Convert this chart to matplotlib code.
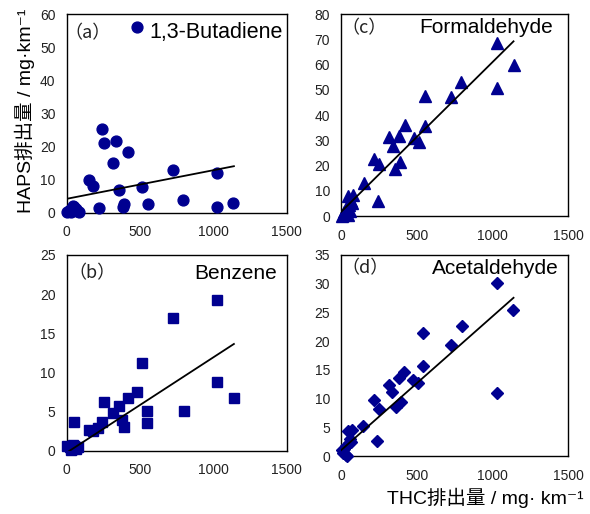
import matplotlib
matplotlib.use("Agg")
import matplotlib.pyplot as plt
import numpy as np

FAM = ['Liberation Sans', 'Noto Sans CJK JP', 'DejaVu Sans']
plt.rcParams['font.family'] = FAM

# ---- data (THC emission x, HAPS emission y) ----
buta_x = [476, 243, 254, 336, 415, 317, 154, 181, 358, 510, 726, 1027, 794, 1134, 1027, 551, 392, 381, 218,
          5, 15, 25, 35, 42, 50, 60, 70, 85, 30]
buta_y = [56.3, 25.4, 21.1, 21.6, 18.4, 14.9, 9.8, 8.0, 7.0, 7.7, 12.8, 11.9, 3.7, 3.0, 1.8, 2.6, 2.6, 1.8, 1.3,
          0.3, 0.5, 0.8, 1.2, 2.0, 1.6, 1.0, 0.6, 0.3, 0.2]

benz_x = [1024, 725, 510, 1026, 1140, 800, 548, 548, 476, 419, 358, 317, 254, 374, 392, 238, 215, 181, 152, 52,
          5, 20, 35, 50, 65, 40, 30, 60, 75]
benz_y = [19.3, 17.0, 11.2, 8.8, 6.7, 5.1, 5.1, 3.6, 7.5, 6.7, 5.7, 4.8, 6.2, 4.0, 3.1, 3.7, 2.95, 2.5, 2.7, 3.7,
          0.7, 0.5, 0.3, 0.6, 0.4, 0.8, 0.1, 0.2, 0.5]

form_x = [1032, 1140, 1032, 796, 728, 552, 552, 424, 386, 315, 480, 513, 342, 220, 249, 393, 360, 154, 243,
          44, 77, 66, 55, 35, 20, 10, 45, 60, 70, 5]
form_y = [68.6, 60.0, 50.7, 53.3, 47.3, 47.7, 35.7, 36.2, 31.8, 31.2, 31.1, 29.5, 27.7, 22.8, 20.5, 21.4, 18.8, 13.0, 5.8,
          8.0, 8.3, 6.0, 4.5, 3.0, 1.5, 0.5, 0.2, 2.0, 5.0, 0.0]

acet_x = [1028, 1138, 1028, 797, 727, 545, 545, 417, 380, 316, 479, 507, 340, 215, 248, 395, 362, 145, 237,
          72, 44, 60, 50, 35, 20, 5, 15, 30, 40, 65]
acet_y = [30.1, 25.4, 10.9, 22.6, 19.4, 21.4, 15.6, 14.7, 13.6, 12.4, 13.3, 12.7, 11.2, 9.7, 8.1, 9.4, 8.5, 5.2, 2.6,
          4.6, 4.3, 3.0, 2.2, 1.8, 1.2, 1.0, 0.5, 0.2, 0.0, 2.5]

# trend lines (slope, intercept), drawn across the THC range
fit_buta = (0.00865, 4.2)
fit_benz = (0.01216, -0.21)
fit_form = (0.05937, 1.6)
fit_acet = (0.02329, 1.0)
fit_range = (0, 1140)

names = ['1,3-Butadiene', 'Benzene', 'Formaldehyde', 'Acetaldehyde']
tags = ['（a）', '（b）', '（c）', '（d）']
ymaxes = [60, 25, 80, 35]
ysteps = [10, 5, 10, 5]

NAVY = '#000090'
W, H = 590, 514
fig = plt.figure(figsize=(W / 100, H / 100), dpi=100)

def ax_at(x0, y0, x1, y1):
    return fig.add_axes([x0 / W, 1 - y1 / H, (x1 - x0) / W, (y1 - y0) / H])

axa = ax_at(66.7, 14.3, 286.7, 212.7)
axc = ax_at(341, 14.3, 568, 216)
axb = ax_at(66.7, 255, 286.7, 451)
axd = ax_at(341, 255, 568, 456)

panels = [
    (axa, buta_x, buta_y, fit_buta, 'o', 7.8, 0, (0.983, 0.906), (0.097, 0.906), 15.5),
    (axb, benz_x, benz_y, fit_benz, 's', 6.5, 1, (0.956, 0.908), (0.115, 0.908), 15),
    (axc, form_x, form_y, fit_form, '^', 8, 2, (0.934, 0.937), (0.101, 0.932), 15),
    (axd, acet_x, acet_y, fit_acet, 'D', 6, 3, (0.960, 0.935), (0.106, 0.935), 15),
]

for ax, xs, ys, fit, mk, ms, i, tpos, lpos, fs in panels:
    ax.plot(xs, ys, linestyle='none', marker=mk, markersize=ms, color=NAVY,
            markeredgecolor=NAVY, clip_on=False, zorder=3)
    fx = np.array(fit_range, dtype=float)
    ax.plot(fx, fit[0] * fx + fit[1], color='black', linewidth=1.3, zorder=4)
    ax.set_xlim(0, 1500)
    ax.set_ylim(0, ymaxes[i])
    ax.set_xticks(np.arange(0, 1501, 500))
    ax.set_yticks(np.arange(0, ymaxes[i] + 0.1, ysteps[i]))
    ax.tick_params(axis='both', length=0, labelsize=10, labelcolor='#222222')
    ax.tick_params(axis='x', pad=9)
    ax.tick_params(axis='y', pad=8)
    for s in ax.spines.values():
        s.set_linewidth(1.0)
        s.set_color('black')
    ax.text(tpos[0], tpos[1], names[i], transform=ax.transAxes, ha='right', va='center',
            fontsize=fs, family=FAM, zorder=5)
    ax.text(lpos[0], lpos[1], tags[i], transform=ax.transAxes, ha='center', va='center',
            fontsize=13, family=['Noto Sans CJK JP', 'DejaVu Sans'], color='#222222', zorder=5)

fig.text(25 / W, 1 - 111 / H, 'HAPS排出量 / mg·km⁻¹', rotation=90,
         ha='center', va='center', fontsize=14, family=FAM)
fig.text(485 / W, 1 - 498 / H, 'THC排出量 / mg· km⁻¹',
         ha='center', va='center', fontsize=14, family=FAM)

fig.savefig('out.png', dpi=100)
